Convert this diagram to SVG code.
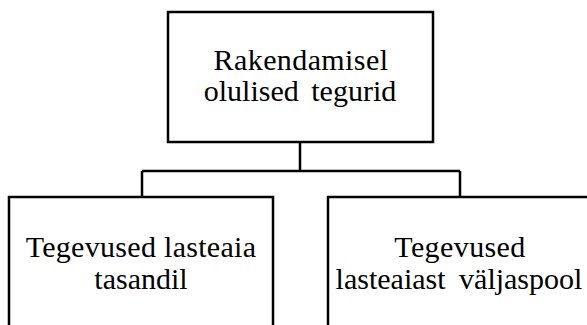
<svg xmlns="http://www.w3.org/2000/svg" width="587" height="325" viewBox="0 0 587 325">
<style>
.box{fill:#fff;stroke:#000;stroke-width:2.5}
.con{fill:none;stroke:#000;stroke-width:2.5}
text{font-family:"Liberation Serif","Times New Roman",serif;font-size:30px;fill:#000;text-anchor:middle}
</style>
<rect width="587" height="325" fill="#fff"/>
<g id="connectors">
<path class="con" d="M300,142 V171 M142,171 H460 M142,171 V197 M460,171 V197"/>
</g>
<g id="top">
<rect class="box" x="168" y="12" width="265" height="130"/>
<text x="301" y="70" letter-spacing="0.4">Rakendamisel</text>
<text x="300" y="101" word-spacing="5">olulised tegurid</text>
</g>
<g id="left">
<rect class="box" x="9" y="197" width="264" height="135"/>
<text x="141" y="257" letter-spacing="0.3">Tegevused lasteaia</text>
<text x="141" y="289">tasandil</text>
</g>
<g id="right">
<rect class="box" x="328" y="197" width="264" height="135"/>
<text x="460" y="257" letter-spacing="0.4">Tegevused</text>
<text x="459" y="289" word-spacing="6">lasteaiast väljaspool</text>
</g>
</svg>
